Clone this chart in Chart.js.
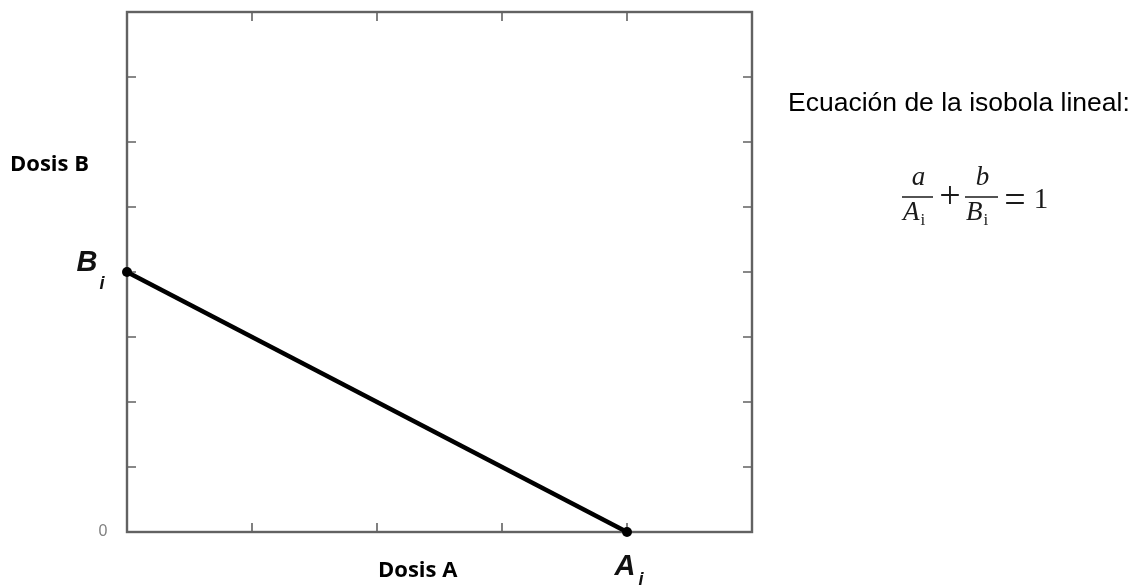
<!DOCTYPE html>
<html lang="es">
<head>
<meta charset="utf-8">
<title>Isobola lineal</title>
<script src="https://cdn.jsdelivr.net/npm/chart.js@4/dist/chart.umd.min.js"></script>
<style>
  html, body { margin: 0; padding: 0; background: #fff; }
  #wrap { position: relative; width: 1133px; height: 585px; }
</style>
</head>
<body>
<div id="wrap"><canvas id="c"></canvas></div>
<script>
// Dosis de cada fármaco por separado que producen el mismo efecto
const doseA = [0, 4];          // Dosis A (eje x)
const doseB = [4, 0];          // Dosis B (eje y)
const pointNames = ['B', 'A']; // B_i sobre el eje y, A_i sobre el eje x
const pointSub = 'i';
const xTicks = [0, 1, 2, 3, 4, 5];
const yTicks = [0, 1, 2, 3, 4, 5, 6, 7, 8];
const zeroLabel = '0';
const xTitle = 'Dosis A';
const yTitle = 'Dosis B';
const eqTitle = 'Ecuación de la isobola lineal:';

const points = doseA.map((a, i) => ({ x: a, y: doseB[i] }));

// Marco con marcas de escala hacia dentro en los cuatro lados
const framePlugin = {
  id: 'frame',
  beforeDatasetsDraw(chart) {
    const { ctx, chartArea: a, scales: { x, y } } = chart;
    const tl = 9;
    ctx.save();
    ctx.strokeStyle = '#626262';
    ctx.lineWidth = 1.6;
    ctx.beginPath();
    xTicks.slice(1, -1).forEach(v => {
      const px = x.getPixelForValue(v);
      ctx.moveTo(px, a.bottom); ctx.lineTo(px, a.bottom - tl);
      ctx.moveTo(px, a.top); ctx.lineTo(px, a.top + tl);
    });
    yTicks.slice(1, -1).forEach(v => {
      const py = y.getPixelForValue(v);
      ctx.moveTo(a.left, py); ctx.lineTo(a.left + tl, py);
      ctx.moveTo(a.right, py); ctx.lineTo(a.right - tl, py);
    });
    ctx.stroke();
    ctx.lineWidth = 2.4;
    ctx.strokeRect(a.left, a.top, a.right - a.left, a.bottom - a.top);
    ctx.restore();
  }
};

// Rótulos de los ejes, de los puntos y ecuación
const labelPlugin = {
  id: 'labels',
  afterDraw(chart) {
    const { ctx, chartArea: a, scales: { x, y } } = chart;
    ctx.save();

    // cero del eje
    ctx.fillStyle = '#808080';
    ctx.font = '16px "Liberation Sans", Arial, sans-serif';
    ctx.textAlign = 'center';
    ctx.textBaseline = 'middle';
    ctx.fillText(zeroLabel, a.left - 24, y.getPixelForValue(0));

    // B_i y A_i junto a sus puntos
    ctx.fillStyle = '#111';
    const pB = { x: x.getPixelForValue(doseA[0]), y: y.getPixelForValue(doseB[0]) };
    const pA = { x: x.getPixelForValue(doseA[1]), y: y.getPixelForValue(doseB[1]) };
    ctx.font = 'italic bold 29px "Liberation Sans", Arial, sans-serif';
    ctx.fillText(pointNames[0], pB.x - 40, pB.y - 9);
    ctx.fillText(pointNames[1], pA.x - 2, pA.y + 35);
    ctx.font = 'italic bold 18px "Liberation Sans", Arial, sans-serif';
    ctx.fillText(pointSub, pB.x - 25, pB.y + 12);
    ctx.fillText(pointSub, pA.x + 14, pA.y + 48);

    // títulos de los ejes
    ctx.fillStyle = '#000';
    ctx.font = 'bold 22px "Open Sans", sans-serif';
    ctx.textAlign = 'left';
    ctx.fillText(yTitle, 10, 165);
    ctx.fillText(xTitle, 378, 571);

    // texto de la ecuación
    ctx.font = '26.5px "Liberation Sans", Arial, sans-serif';
    ctx.textBaseline = 'alphabetic';
    ctx.fillText(eqTitle, 788, 111);

    // a/A_i + b/B_i = 1
    ctx.fillStyle = '#1a1a1a';
    const serif = '"Liberation Serif", "Times New Roman", serif';
    const barY = 197;
    const fracs = [
      { num: 'a', den: 'A', x0: 902, x1: 933 },
      { num: 'b', den: 'B', x0: 965, x1: 998 }
    ];
    ctx.strokeStyle = '#1a1a1a';
    ctx.lineWidth = 1.5;
    fracs.forEach(f => {
      ctx.beginPath();
      ctx.moveTo(f.x0, barY); ctx.lineTo(f.x1, barY);
      ctx.stroke();
      ctx.textAlign = 'center';
      ctx.font = 'italic 27px ' + serif;
      ctx.fillText(f.num, (f.x0 + f.x1) / 2 + 1, 185);
      ctx.textAlign = 'left';
      ctx.fillText(f.den, f.x0 + 1, 220);
      const w = ctx.measureText(f.den).width;
      ctx.font = '17px ' + serif;
      ctx.fillText(pointSub, f.x0 + w + 2, 225);
    });
    ctx.textAlign = 'center';
    ctx.font = '38px ' + serif;
    ctx.fillText('+', 950, 208);
    ctx.fillText('=', 1015, 212);
    ctx.font = '29px ' + serif;
    ctx.fillText('1', 1041, 208);

    ctx.restore();
  }
};

new Chart(document.getElementById('c'), {
  type: 'line',
  data: {
    datasets: [{
      data: points,
      borderColor: '#000',
      backgroundColor: '#000',
      borderWidth: 4.5,
      pointRadius: 5,
      pointHoverRadius: 5,
      pointBackgroundColor: '#000',
      pointBorderWidth: 0,
      tension: 0,
      clip: false
    }]
  },
  options: {
    responsive: true,
    maintainAspectRatio: false,
    animation: false,
    events: [],
    layout: { padding: { left: 127, top: 12, right: 381, bottom: 53 } },
    plugins: { legend: { display: false }, tooltip: { enabled: false } },
    scales: {
      x: { type: 'linear', min: xTicks[0], max: xTicks[xTicks.length - 1], display: false },
      y: { type: 'linear', min: yTicks[0], max: yTicks[yTicks.length - 1], display: false }
    }
  },
  plugins: [framePlugin, labelPlugin]
});
</script>
</body>
</html>
